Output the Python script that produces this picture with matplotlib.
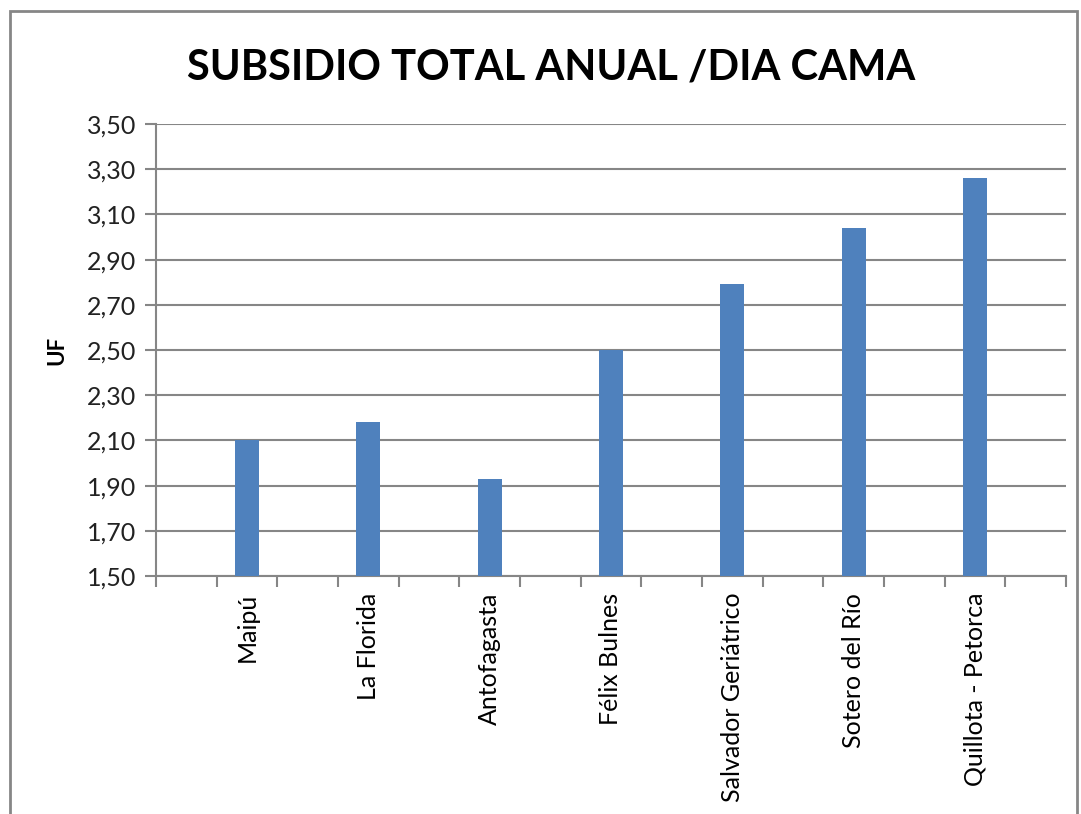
import numpy as np
import matplotlib.pyplot as plt
from matplotlib.patches import Rectangle

# data
hospitales = ['Maipú', 'La Florida', 'Antofagasta', 'Félix Bulnes',
              'Salvador Geriátrico', 'Sotero del Río', 'Quillota - Petorca']
subsidio = [2.10, 2.18, 1.93, 2.50, 2.79, 3.04, 3.26]
y_ticks = [1.50, 1.70, 1.90, 2.10, 2.30, 2.50, 2.70, 2.90, 3.10, 3.30, 3.50]

plt.rcParams['font.family'] = ['Lato', 'DejaVu Sans']

W, H = 1081, 814
fig = plt.figure(figsize=(W / 100, H / 100), dpi=100)
ax = fig.add_axes([156 / W, 1 - 576 / H, (1066 - 156) / W, (576 - 124) / H])

# excel-like layout: 15 category slots, bars in every other one
n_slots = 2 * len(hospitales) + 1
pos = np.arange(len(hospitales)) * 2 + 1.5
ax.bar(pos, subsidio, width=0.4, color='#4F81BD', zorder=3)

ax.set_xlim(0, n_slots)
ax.set_ylim(1.5, 3.5)
ax.set_yticks(y_ticks)
ax.set_yticklabels([f'{v:.2f}'.replace('.', ',') for v in y_ticks], fontsize=18, color='#222222')
ax.set_xticks(pos)
ax.set_xticklabels(hospitales, rotation=90, fontsize=18)
ax.set_xticks(np.arange(0, n_slots + 1), minor=True)
ax.tick_params(axis='x', which='major', length=0, pad=12)
ax.tick_params(axis='x', which='minor', length=8, width=1.5, color='#868686', direction='out')
ax.tick_params(axis='y', length=8, width=1.5, color='#868686', direction='out', pad=6)

ax.grid(axis='y', color='#868686', linewidth=1.5, zorder=0)
for s in ['top', 'right']:
    ax.spines[s].set_visible(False)
for s in ['left', 'bottom']:
    ax.spines[s].set_color('#868686')
    ax.spines[s].set_linewidth(1.5)

ax.set_ylabel('UF', fontsize=16, fontweight='bold', labelpad=14)
fig.text(551 / W, 1 - 67 / H, 'SUBSIDIO TOTAL ANUAL /DIA CAMA', ha='center', va='center',
         fontsize=30, fontweight='bold')

# chart border
fig.patches.append(Rectangle((10 / W, -0.05), (1077 - 10) / W, 1 - 11 / H + 0.05,
                             transform=fig.transFigure, fill=False,
                             edgecolor='#868686', linewidth=2))

fig.savefig('out.png', dpi=100)
